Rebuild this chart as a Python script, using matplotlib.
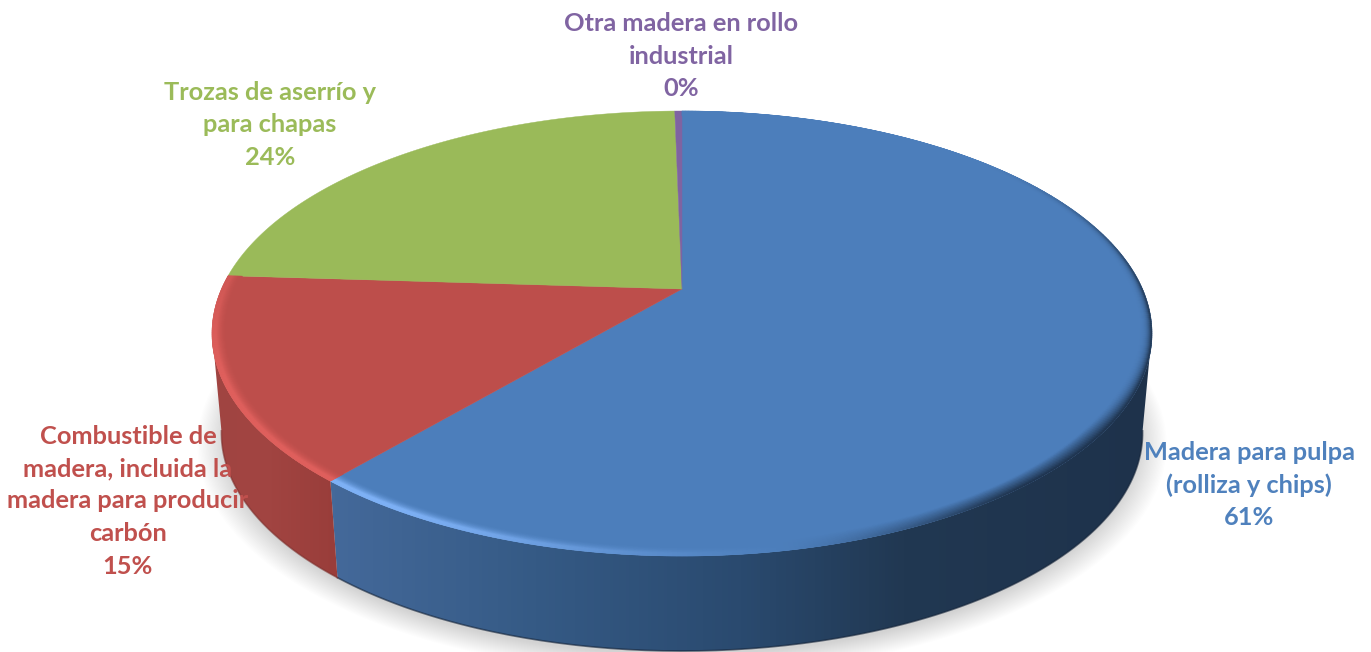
import numpy as np
import matplotlib
matplotlib.use("Agg")
import matplotlib.pyplot as plt
from matplotlib.patches import Polygon
from matplotlib.collections import PolyCollection
from matplotlib.colors import to_rgb, LinearSegmentedColormap

names = ["Madera para pulpa\n(rolliza y chips)",
         "Combustible de\nmadera, incluida la\nmadera para producir\ncarbón",
         "Trozas de aserrío y\npara chapas",
         "Otra madera en rollo\nindustrial"]
values = [61.2, 14.8, 23.7, 0.3]
top_colors = ["#4c7ebb", "#bd4e4b", "#9aba59", "#7f63a1"]
text_colors = ["#4f81bd", "#c0504d", "#9bbb59", "#8064a2"]
glow_colors = ["#7fb2f7", "#e0605d", "#9aba59", "#7f63a1"]
label_pos = [(1249, 485), (128, 501), (270, 125), (681, 56)]

W, H = 1371, 652
CX, CY = 682, 289      # centro de la torta (en perspectiva)
A, B, K = 460.5, 213.6, 0.2
EY = 333               # centro de la elipse visible
DROP, SHRINK = 99.5, 0.98


def project(theta, r=1.0, low=False, extra=0.0):
    t = np.radians(theta)
    u, v = r * np.sin(t), r * np.cos(t)
    w = 1 + K * v
    x = CX + A * u / w
    y = CY - B * v / w
    if low:
        x = CX + SHRINK * (x - CX)
        y = EY + DROP + extra + SHRINK * (y - EY)
    return x, y


def ramp(x, x0, x1):
    s = np.clip((x - x0) / (x1 - x0), 0, 1)
    return s * s * (3 - 2 * s)


fig = plt.figure(figsize=(W / 100, H / 100), dpi=100)
ax = fig.add_axes([0, 0, 1, 1])
ax.set_axis_off()

# sombra suave debajo de la torta
th_all = np.linspace(0, 360, 361)
for r in np.linspace(1.05, 0.99, 22):
    x, y = project(th_all, r, low=True, extra=7)
    ax.add_patch(Polygon(np.c_[x, y], closed=True, fc="black", ec="none", alpha=0.0065, zorder=1))

ends = np.cumsum(values) * 3.6
starts = np.r_[0, ends[:-1]]

# pared lateral con degradado horizontal (de izquierda a derecha)
side_stops = {
    0: [(0.0, "#44699a"), (0.25, "#355a85"), (0.5, "#2a4a6f"), (0.7, "#213852"), (1.0, "#1e324b")],
    1: [(0.0, "#a04441"), (0.4, "#a24542"), (1.0, "#993d3a")],
}
for i, stops in side_stops.items():
    a = max(starts[i], 101)
    b = min(ends[i], 259)
    th = np.linspace(a, b, 200)
    x1, y1 = project(th)
    x2, y2 = project(th, low=True)
    poly = Polygon(np.r_[np.c_[x1, y1], np.c_[x2, y2][::-1]], closed=True, fc="none", ec="none")
    ax.add_patch(poly)
    xmin, xmax = min(x1.min(), x2.min()), max(x1.max(), x2.max())
    cmap = LinearSegmentedColormap.from_list("lado", stops)
    grad = np.linspace(0, 1, 256)[None, :]
    img = ax.imshow(grad, cmap=cmap, vmin=0, vmax=1, extent=(xmin, xmax, H, 0),
                    aspect="auto", interpolation="bilinear", zorder=2)
    img.set_clip_path(poly)
    # borde inferior un poco mas oscuro
    ax.plot(x2, y2, color="#142338" if i == 0 else "#7d302d", lw=1.2, alpha=0.6, zorder=3)

# cara superior
for i in range(len(values)):
    th = np.linspace(starts[i], ends[i], 300)
    x, y = project(th)
    pts = np.r_[[[CX, CY]], np.c_[x, y]]
    ax.add_patch(Polygon(pts, closed=True, fc=top_colors[i], ec=top_colors[i], lw=0.3, zorder=4))

# bisel del borde: brillo adelante a la izquierda, oscuro a la derecha
R0 = 0.968
radii = np.linspace(R0, 1.0, 17)
for i in range(2):
    th = np.arange(starts[i], ends[i] + 0.5, 0.5)
    th[-1] = ends[i]
    quads, cols = [], []
    base = np.array(to_rgb(top_colors[i]))
    glow = np.array(to_rgb(glow_colors[i]))
    dark = np.array(to_rgb("#1e324b"))
    for j in range(len(radii) - 1):
        t = (j + 0.5) / (len(radii) - 1)
        x1, y1 = project(th[:-1], radii[j])
        x2, y2 = project(th[1:], radii[j])
        x3, y3 = project(th[1:], radii[j + 1])
        x4, y4 = project(th[:-1], radii[j + 1])
        mid = (th[:-1] + th[1:]) / 2
        hi = ramp(mid, 165, 215) * (1 - 0.55 * ramp(mid, 245, 285))
        lo = ramp(mid, 45, 100) * (1 - ramp(mid, 140, 172))
        power = 1.0 + 3.5 * (1 - ramp(mid, 95, 130))
        amt_hi = hi * min(t * 1.35, 1.0) ** 2
        amt_lo = lo * t ** power
        c = base + (glow - base) * amt_hi[:, None]
        c = c + (dark - c) * amt_lo[:, None]
        quads.append(np.stack([np.c_[x1, y1], np.c_[x2, y2], np.c_[x3, y3], np.c_[x4, y4]], axis=1))
        cols.append(c)
    quads = np.concatenate(quads)
    cols = np.concatenate(cols)
    ax.add_collection(PolyCollection(quads, facecolors=cols, edgecolors=cols, linewidths=0.4, zorder=5))

# etiquetas
for name, val, pos, col in zip(names, values, label_pos, text_colors):
    ax.text(pos[0], pos[1], f"{name}\n{round(val)}%", color=col, family="Lato", weight="bold",
            fontsize=18.3, ha="center", va="center", linespacing=1.5, zorder=6)

ax.set_xlim(0, W)
ax.set_ylim(H, 0)
fig.savefig("out.png", dpi=100, facecolor="white")
